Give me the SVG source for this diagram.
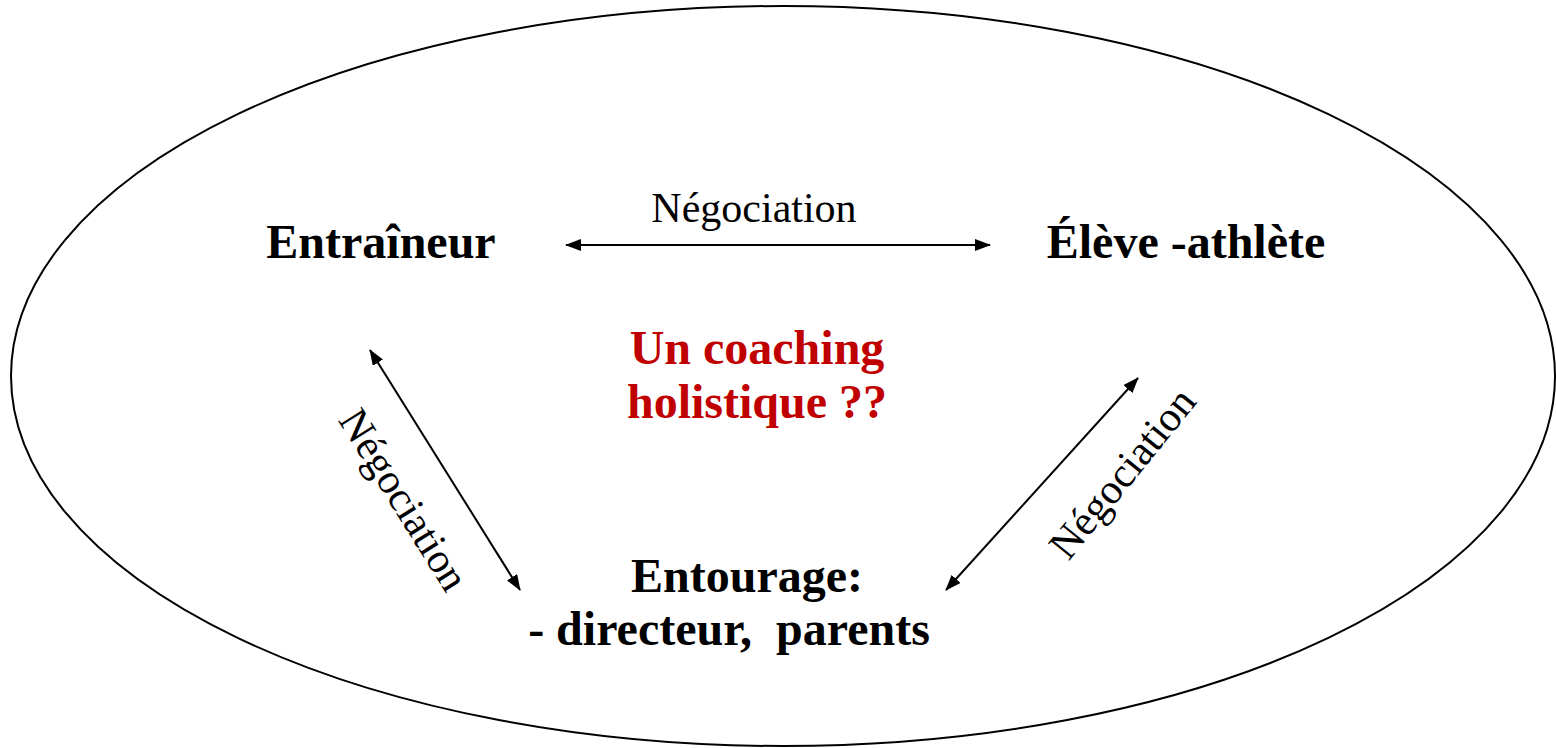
<svg xmlns="http://www.w3.org/2000/svg" width="1556" height="748" viewBox="0 0 1556 748">
  <style>
    .node { font-family: "Liberation Serif", "Times New Roman", serif; font-weight: bold; font-size: 48px; fill: #000; }
    .center { fill: #C00000; }
    .lbl { font-family: "Liberation Serif", "Times New Roman", serif; font-size: 42px; fill: #000; }
    .link { stroke: #000; stroke-width: 2; fill: none; marker-start: url(#head); marker-end: url(#head); }
  </style>
  <defs>
    <marker id="head" viewBox="0 0 16 12" refX="15" refY="6" markerWidth="16" markerHeight="12" markerUnits="userSpaceOnUse" orient="auto-start-reverse">
      <path d="M0,0 L16,6 L0,12 Z" fill="#000"/>
    </marker>
  </defs>

  <ellipse cx="783" cy="376" rx="772" ry="370" fill="none" stroke="#000" stroke-width="2"/>

  <g id="connectors">
    <line class="link" x1="566" y1="245" x2="990" y2="245"/>
    <line class="link" x1="370" y1="350" x2="520" y2="590"/>
    <line class="link" x1="1138" y1="378" x2="946" y2="590"/>
    <text class="lbl" x="754" y="222" text-anchor="middle">Négociation</text>
    <text class="lbl" transform="translate(392,507) rotate(58)" text-anchor="middle">Négociation</text>
    <text class="lbl" transform="translate(1133,482) rotate(-51)" text-anchor="middle">Négociation</text>
  </g>

  <g id="entraineur">
    <text class="node" x="381" y="258" text-anchor="middle">Entraîneur</text>
  </g>
  <g id="eleve-athlete">
    <text class="node" x="1186" y="258" text-anchor="middle">Élève -athlète</text>
  </g>
  <g id="coaching">
    <text class="node center" x="757" y="364" text-anchor="middle">Un coaching</text>
    <text class="node center" x="757" y="418" text-anchor="middle">holistique ??</text>
  </g>
  <g id="entourage">
    <text class="node" x="747" y="592" text-anchor="middle">Entourage:</text>
    <text class="node" x="729" y="645" text-anchor="middle" xml:space="preserve">- directeur,  parents</text>
  </g>
</svg>
